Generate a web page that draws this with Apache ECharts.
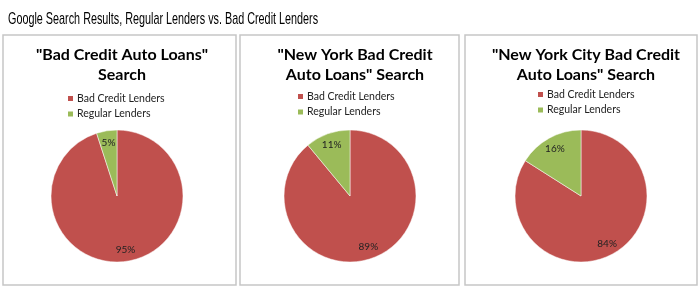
<!DOCTYPE html>
<html><head><meta charset="utf-8">
<script src="https://cdn.jsdelivr.net/npm/echarts@6/dist/echarts.min.js"></script>
<style>html,body{margin:0;padding:0;background:#fff}#c{width:700px;height:300px}</style>
</head><body><div id="c"></div>
<script>
const mainTitle = 'Google Search Results, Regular Lenders vs. Bad Credit Lenders';
const panelTitles = ['"Bad Credit Auto Loans"\nSearch', '"New York Bad Credit\nAuto Loans" Search', '"New York City Bad Credit\nAuto Loans" Search'];
const categories = ['Bad Credit Lenders', 'Regular Lenders'];
const badCredit = [95, 89, 84];
const regular = [5, 11, 16];

const colors = ['#C0504D', '#9BBB59'];
const panels = [
  {x: 3, w: 233, cx: 117, legendLeft: 66, legendTop: 93},
  {x: 240, w: 219, cx: 350, legendLeft: 296, legendTop: 91},
  {x: 465, w: 232, cx: 581, legendLeft: 536, legendTop: 89}
];
const cy = 196, R = 66;
const font = 'Lato, "Open Sans", sans-serif';

const titles = [];
const legends = [];
const series = [];
const graphics = [{
  type: 'text', x: 8, y: 11, scaleX: 0.636, z: 10,
  style: {text: mainTitle, fontFamily: '"Liberation Sans", Arial, sans-serif', fontSize: 17, fill: '#000', textVerticalAlign: 'top'}
}];
panels.forEach((p, i) => {
  graphics.push({type: 'rect', shape: {x: p.x, y: 35, width: p.w, height: 250}, style: {fill: '#fff', stroke: '#c6c6c6', lineWidth: 1.5}, z: -10});
  titles.push({
    text: panelTitles[i], left: p.cx, top: 40, textAlign: 'center',
    textStyle: {fontFamily: font, fontSize: 16, fontWeight: 'bold', color: '#000', lineHeight: 20}
  });
  legends.push({
    data: categories, orient: 'vertical', left: p.legendLeft, top: p.legendTop,
    itemWidth: 7, itemHeight: 7, itemGap: 4.5, icon: 'rect', padding: 0,
    textStyle: {fontFamily: font, fontSize: 10.5, color: '#222', padding: [0, 0, 0, -2]}
  });
  const data = [
    {name: categories[0], value: badCredit[i]},
    {name: categories[1], value: regular[i]}
  ];
  series.push({
    type: 'pie', center: [p.cx, cy], radius: [0, R], startAngle: 90, clockwise: true,
    data: data, label: {show: false}, labelLine: {show: false}, silent: true,
    itemStyle: {borderColor: '#fff', borderWidth: 0.5}
  });
  series.push({
    type: 'pie', center: [p.cx, cy], radius: [R * 0.55, R], startAngle: 90, clockwise: true,
    data: data, silent: true, z: 5,
    itemStyle: {color: 'rgba(0,0,0,0)', borderWidth: 0},
    label: {show: true, position: 'inside', formatter: '{c}%', fontFamily: font, fontSize: 10, color: '#222'},
    labelLine: {show: false}
  });
});

const chart = echarts.init(document.getElementById('c'));
chart.setOption({
  backgroundColor: '#fff',
  animation: false,
  color: colors,
  title: titles,
  legend: legends,
  graphic: graphics,
  series: series
});
</script></body></html>
